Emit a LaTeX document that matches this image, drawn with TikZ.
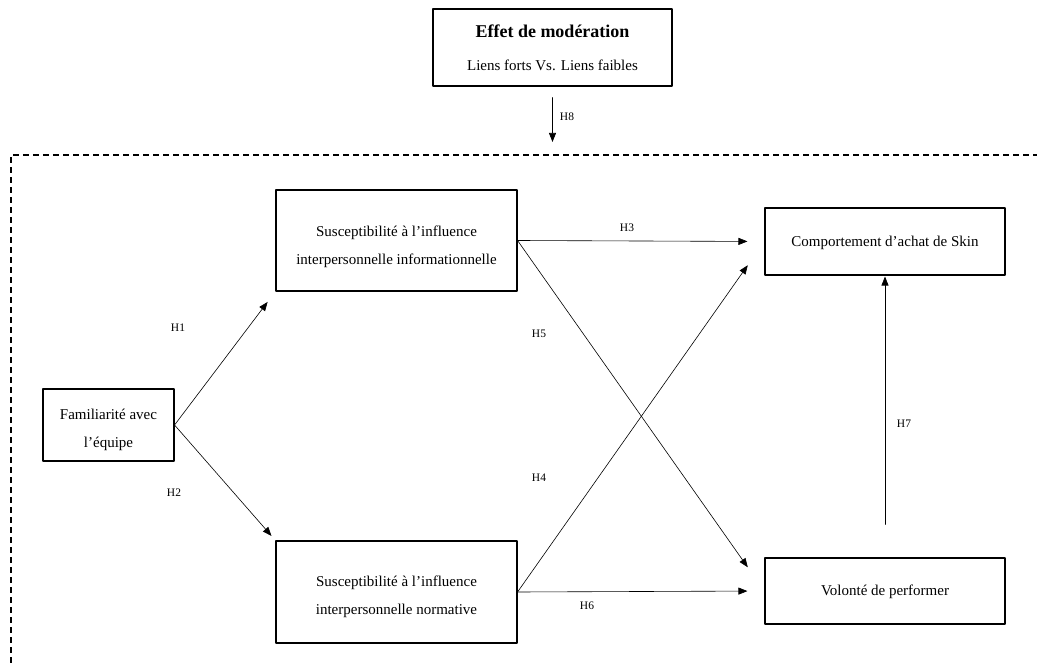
\documentclass[tikz,border=0pt]{standalone}
\usepackage{fontspec}
\setmainfont{Liberation Serif}
\usetikzlibrary{arrows.meta}

\begin{document}
\begin{tikzpicture}[y=-1pt,x=1pt,line width=0.6pt,line cap=round,line join=round,
  box/.style={draw,line width=1.1pt,line cap=butt,align=center,inner sep=0pt,
    font=\fontsize{15}{28}\selectfont},
  boxtext/.style={align=center,inner sep=0pt,font=\fontsize{15}{28}\selectfont},
  hyp/.style={font=\fontsize{11.5}{13}\selectfont},
  link/.style={-{Triangle[length=9pt,width=7pt]}}]
\useasboundingbox (0,0) rectangle (1037,663);

% dashed frame (open on the right and at the bottom)
\draw[line width=1.1pt,line cap=butt,dash pattern=on 6pt off 4pt] (11,663) -- (11,155) -- (1037,155);

\node[box,minimum width=239pt,minimum height=77pt] (mod) at (552.5,47.5)
  {{\fontsize{18}{20}\selectfont\bfseries Effet de modération}\\[5pt]Liens forts Vs. Liens faibles};
\coordinate (modend) at (552.5,142);

\node[box,minimum width=131pt,minimum height=72pt] (fam) at (108.5,425) {};
\node[box,minimum width=241pt,minimum height=101pt] (info) at (396.5,240.5) {};
\node[box,minimum width=241pt,minimum height=102pt] (norm) at (396.5,592) {};
\node[box,minimum width=240pt,minimum height=67pt] (comp) at (885,241.5) {};
\node[box,minimum width=240pt,minimum height=66pt] (vol) at (885,591) {};

% box texts sit a little below the middle
\node[boxtext] (famtxt) at ([yshift=-5pt]fam.center) {Familiarité avec\\l’équipe};
\node[boxtext] (infotxt) at ([yshift=-6pt]info.center) {Susceptibilité à l’influence\\interpersonnelle informationnelle};
\node[boxtext] (normtxt) at ([yshift=-5pt]norm.center) {Susceptibilité à l’influence\\interpersonnelle normative};
\node[boxtext] (comptxt) at ([yshift=-1pt]comp.center) {Comportement d’achat de Skin};
\node[boxtext] (voltxt) at ([yshift=-1pt]vol.center) {Volonté de performer};

% hypotheses
\draw[link,shorten <=11pt] (mod.south) -- (modend);
\draw[link,shorten >=13pt] (fam.east) -- (info.south west);
\draw[link,shorten >=6pt] (fam.east) -- (norm.north west);
\draw[link,shorten >=17pt] (info.east) -- (comp.west);
\draw[link,shorten >=29pt] (info.east) -- (vol.west);
\draw[link,shorten >=29pt] (norm.east) -- (comp.west);
\draw[link,shorten >=17pt] (norm.east) -- (vol.west);
\draw[link,shorten <=33pt,shorten >=1pt] (vol.north) -- (comp.south);

\node[hyp] (h1) at (178,328) {H1};
\node[hyp] (h2) at (174,493) {H2};
\node[hyp] (h3) at (627,228) {H3};
\node[hyp] (h4) at (539,478) {H4};
\node[hyp] (h5) at (539,334) {H5};
\node[hyp] (h6) at (587,606) {H6};
\node[hyp] (h7) at (904,424) {H7};
\node[hyp] (h8) at (567,117) {H8};

\end{tikzpicture}
\end{document}
